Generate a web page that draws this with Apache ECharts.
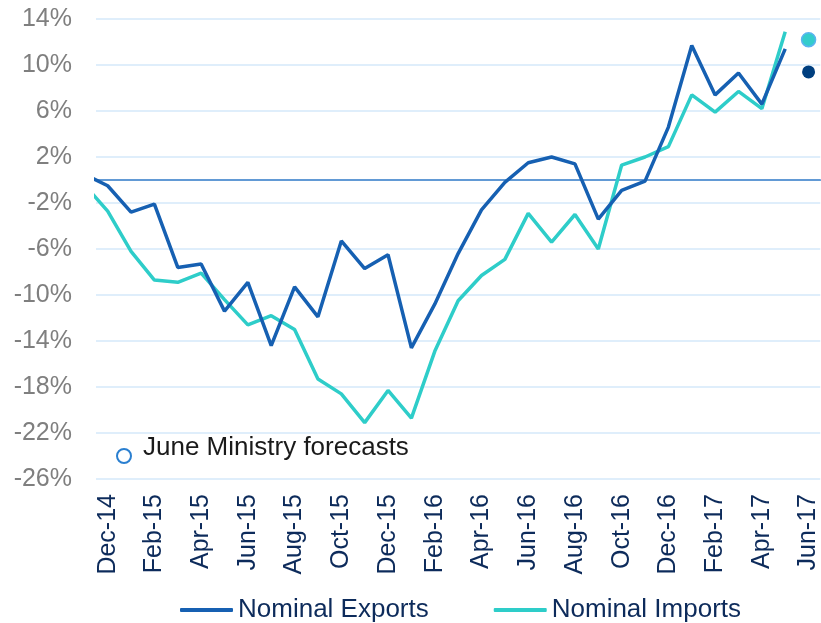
<!DOCTYPE html>
<html>
<head>
    <meta charset="utf-8">
    <title>Exports and imports</title>
    <script src="https://cdn.jsdelivr.net/npm/echarts@6/dist/echarts.min.js"></script>
</head>
<body style="margin:0px;background:#fff;">
    <div id="main" style="width:821px;height:623px;"></div>
    <script type="text/javascript">
        // months shown on the axis (Dec-14 .. Jun-17)
        var months = ['Dec-14', 'Jan-15', 'Feb-15', 'Mar-15', 'Apr-15', 'May-15', 'Jun-15', 'Jul-15',
            'Aug-15', 'Sep-15', 'Oct-15', 'Nov-15', 'Dec-15', 'Jan-16', 'Feb-16', 'Mar-16', 'Apr-16',
            'May-16', 'Jun-16', 'Jul-16', 'Aug-16', 'Sep-16', 'Oct-16', 'Nov-16', 'Dec-16', 'Jan-17',
            'Feb-17', 'Mar-17', 'Apr-17', 'May-17', 'Jun-17'];

        // y/y % change, starting one month earlier (Nov-14), which is clipped at the left edge
        var exportsVals = [0.5, -0.5, -2.8, -2.1, -7.6, -7.3, -11.4, -8.9, -14.4, -9.3, -11.9, -5.3, -7.7,
            -6.5, -14.6, -10.8, -6.4, -2.6, -0.2, 1.5, 2.0, 1.4, -3.4, -0.9, -0.1, 4.6, 11.7, 7.4,
            9.3, 6.6, 11.4];
        var importsVals = [-0.4, -2.7, -6.2, -8.7, -8.9, -8.1, -10.4, -12.6, -11.8, -13.0, -17.3, -18.6,
            -21.1, -18.3, -20.7, -14.9, -10.5, -8.3, -6.9, -2.9, -5.4, -3.0, -6.0, 1.3, 2.0, 2.9,
            7.4, 5.9, 7.7, 6.2, 12.9];

        // June Ministry forecasts for Jun-17
        var forecastImports = 12.2;
        var forecastExports = 9.4;

        function toPairs(vals) {
            var out = [];
            for (var i = 0; i < vals.length; i++) {
                out.push([i - 1, vals[i]]);
            }
            return out;
        }

        var myChart = echarts.init(document.getElementById('main'));
        var lastIdx = months.length - 1;

        var option = {
            animation: false,
            grid: { left: 96, top: 19, bottom: 144, right: -4, containLabel: false },
            legend: {
                data: ['Nominal Exports', 'Nominal Imports'],
                left: 175, top: 592,
                icon: 'roundRect', itemWidth: 53, itemHeight: 4, itemGap: 65,
                textStyle: { fontFamily: 'Liberation Sans', fontSize: 26, color: '#0d2b5b' }
            },
            xAxis: [{
                type: 'category',
                data: months,
                boundaryGap: true,
                axisLine: { show: false, onZero: false },
                axisTick: { show: false },
                axisLabel: {
                    interval: 1, rotate: 90, margin: 15,
                    fontFamily: 'Liberation Sans', fontSize: 25, color: '#0d2b5b'
                },
                splitLine: { show: false }
            }, {
                type: 'value',
                min: -0.5, max: months.length - 0.5,
                show: true,
                axisLine: { show: true, onZero: true, lineStyle: { color: '#2f7ac8', width: 1.5 } },
                axisTick: { show: false },
                axisLabel: { show: false },
                splitLine: { show: false }
            }],
            yAxis: {
                type: 'value',
                min: -26, max: 14, interval: 4,
                axisLine: { show: false },
                axisTick: { show: false },
                axisLabel: {
                    formatter: function (v) { return v + '%'; },
                    margin: 24,
                    fontFamily: 'Liberation Sans', fontSize: 25, color: '#7f7f7f'
                },
                splitLine: { lineStyle: { color: '#dfeefb', width: 2 } }
            },
            graphic: [{
                type: 'circle',
                shape: { cx: 124, cy: 456, r: 7 },
                style: { fill: 'none', stroke: '#2a7fd0', lineWidth: 2 }
            }, {
                type: 'text',
                left: 143, top: 435,
                style: { text: 'June Ministry forecasts', font: '26px "Liberation Sans"', fill: '#1a1a1a' }
            }],
            series: [{
                name: 'Nominal Exports',
                type: 'line',
                xAxisIndex: 1,
                data: toPairs(exportsVals),
                clip: true,
                showSymbol: false,
                lineStyle: { color: '#1660b2', width: 3.5 },
                itemStyle: { color: '#1660b2' },
                z: 3
            }, {
                name: 'Nominal Imports',
                type: 'line',
                xAxisIndex: 1,
                data: toPairs(importsVals),
                clip: true,
                showSymbol: false,
                lineStyle: { color: '#2ecdc9', width: 3.5 },
                itemStyle: { color: '#2ecdc9' },
                z: 2
            }, {
                name: 'Forecast Imports',
                type: 'scatter',
                xAxisIndex: 1,
                data: [[lastIdx, forecastImports]],
                symbolSize: 14,
                itemStyle: { color: '#33cccc', borderColor: '#5ab4f0', borderWidth: 1.5, opacity: 1 },
                z: 4
            }, {
                name: 'Forecast Exports',
                type: 'scatter',
                xAxisIndex: 1,
                data: [[lastIdx, forecastExports]],
                symbolSize: 13,
                itemStyle: { color: '#003f7f', opacity: 1 },
                z: 4
            }]
        };
        myChart.setOption(option);
    </script>
</body>
</html>
